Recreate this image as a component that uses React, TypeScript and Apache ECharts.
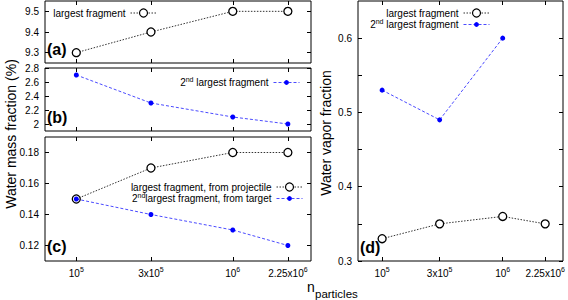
import React, { useEffect, useRef } from "react";
import * as echarts from "echarts";

// ---------- data ----------
const nParticles = [1e5, 3e5, 1e6, 2.25e6];
const xTickLabels = ["10^5", "3x10^5", "10^6", "2.25x10^6"];

const largestA = [9.3, 9.4, 9.5, 9.5];
const secondB = [2.7, 2.3, 2.1, 2.0];
const largestProjectileC = [0.15, 0.17, 0.18, 0.18];
const secondTargetC = [0.15, 0.14, 0.13, 0.12];
const vaporLargestD = [0.33, 0.35, 0.36, 0.35];
const vaporSecondD = [0.53, 0.49, 0.6];

const yTicksA = [9.3, 9.4, 9.5];
const yTicksB = [2, 2.2, 2.4, 2.6, 2.8];
const yTicksC = [0.12, 0.14, 0.16, 0.18];
const yTicksD = [0.3, 0.4, 0.5, 0.6];
const yMinorTicksD = [0.35, 0.45, 0.55];

const FONT = "'Liberation Sans', Arial, Helvetica, sans-serif";
const X_MIN = 4.8;
const X_MAX = 6.5;
const xTickPos = nParticles.map((n) => Math.log10(n));

const pairs = (vals: number[]) => vals.map((v, i) => [Math.log10(nParticles[i]), v]);

const xLabelFormatter = (value: number) => {
  const idx = xTickPos.findIndex((p) => Math.abs(p - value) < 1e-6);
  if (idx < 0) return "";
  const [base, exp] = xTickLabels[idx].split("^");
  return `{b|${base}}{s|${exp}}`;
};

const blackLine = { color: "#333", width: 1, type: [1.5, 1.5] as any };
const blueLine = { color: "#4b4bff", width: 1, type: [3, 2] as any };
const openCircle = { color: "#fff", borderColor: "#000", borderWidth: 1.3 };
const blueDot = { color: "#0000ff", borderWidth: 0 };

const grids = [
  { left: 45, top: 1, width: 266, height: 62 },
  { left: 45, top: 68, width: 266, height: 63 },
  { left: 45, top: 137, width: 266, height: 124 },
  { left: 358, top: 1, width: 205, height: 260 },
];

const yRanges = [
  { min: 9.25, max: 9.55, ticks: yTicksA, minor: [] as number[] },
  { min: 1.9, max: 2.8, ticks: yTicksB, minor: [] as number[] },
  { min: 0.11, max: 0.19, ticks: yTicksC, minor: [] as number[] },
  { min: 0.3, max: 0.65, ticks: yTicksD, minor: yMinorTicksD },
];

const tickStyle = { inside: true, length: 4, lineStyle: { color: "#000", width: 1 } };

export default function App() {
  const ref = useRef<HTMLDivElement>(null);
  useEffect(() => {
    if (!ref.current) return;
    const chart = echarts.init(ref.current, null, { renderer: "svg" });

    const xAxis: any[] = [];
    const yAxis: any[] = [];
    grids.forEach((_, g) => {
      const showX = g === 2 || g === 3;
      xAxis.push({
        type: "value",
        gridIndex: g,
        position: "bottom",
        min: X_MIN,
        max: X_MAX,
        axisLine: { show: false },
        splitLine: { show: false },
        axisTick: { ...tickStyle, customValues: xTickPos },
        axisLabel: {
          show: showX,
          customValues: xTickPos,
          margin: 5,
          formatter: xLabelFormatter,
          rich: {
            b: { fontSize: 10, fontFamily: FONT, color: "#000", lineHeight: 14 },
            s: { fontSize: 7, fontFamily: FONT, color: "#000", lineHeight: 8, verticalAlign: "top" },
          },
        },
      });
      xAxis.push({
        type: "value",
        gridIndex: g,
        position: "top",
        min: X_MIN,
        max: X_MAX,
        axisLine: { show: false },
        splitLine: { show: false },
        axisTick: { ...tickStyle, customValues: xTickPos },
        axisLabel: { show: false },
      });
      const yr = yRanges[g];
      const tickVals = [...yr.ticks, ...yr.minor].sort((a, b) => a - b);
      yAxis.push({
        type: "value",
        gridIndex: g,
        position: "left",
        min: yr.min,
        max: yr.max,
        axisLine: { show: false },
        splitLine: { show: false },
        axisTick: { ...tickStyle, customValues: tickVals },
        axisLabel: {
          customValues: yr.ticks,
          margin: 6,
          fontSize: 10,
          fontFamily: FONT,
          color: "#000",
        },
      });
      yAxis.push({
        type: "value",
        gridIndex: g,
        position: "right",
        min: yr.min,
        max: yr.max,
        axisLine: { show: false },
        splitLine: { show: false },
        axisTick: { ...tickStyle, customValues: tickVals },
        axisLabel: { show: false },
      });
    });

    const mkBlack = (name: string, g: number, vals: number[]) => ({
      name,
      type: "line",
      xAxisIndex: 2 * g,
      yAxisIndex: 2 * g,
      data: pairs(vals),
      symbol: "circle",
      symbolSize: 8,
      lineStyle: blackLine,
      itemStyle: openCircle,
      z: 2,
    });
    const mkBlue = (name: string, g: number, vals: number[]) => ({
      name,
      type: "line",
      xAxisIndex: 2 * g,
      yAxisIndex: 2 * g,
      data: pairs(vals),
      symbol: "circle",
      symbolSize: 5,
      lineStyle: blueLine,
      itemStyle: blueDot,
      z: 3,
    });

    const legendText: Record<string, string> = {
      aLargest: "{t|largest fragment}",
      bSecond: "{t|2}{s|nd}{t| largest fragment}",
      cLargest: "{t|largest fragment, from projectile}",
      cSecond: "{t|2}{s|nd}{t|largest fragment, from target}",
      dLargest: "{t|largest fragment}",
      dSecond: "{t|2}{s|nd}{t| largest fragment}",
    };

    const mkLegend = (name: string, right: number, top: number, itemHeight: number, black: boolean) => ({
      data: [name],
      right,
      top,
      padding: 0,
      align: "right",
      itemWidth: 26,
      itemHeight,
      selectedMode: false,
      itemStyle: black ? { borderWidth: 1.2, borderColor: "#000", color: "#fff" } : { borderWidth: 0, color: "#0000ff" },
      lineStyle: black ? { ...blackLine } : { ...blueLine },
      formatter: (n: string) => legendText[n],
      textStyle: {
        rich: {
          t: { fontSize: 10, fontFamily: FONT, color: "#000", lineHeight: 13 },
          s: { fontSize: 7, fontFamily: FONT, color: "#000", lineHeight: 8, verticalAlign: "top" },
        },
      },
    });

    const option: any = {
      animation: false,
      backgroundColor: "#fff",
      grid: grids.map((gr) => ({
        ...gr,
        show: true,
        borderColor: "#000",
        borderWidth: 1,
        backgroundColor: "transparent",
      })),
      xAxis,
      yAxis,
      legend: [
        mkLegend("aLargest", 411, 8, 10, true),
        mkLegend("bSecond", 268, 76, 6, false),
        mkLegend("cLargest", 265, 182, 10, true),
        mkLegend("cSecond", 265, 192, 6, false),
        mkLegend("dLargest", 78, 8, 10, true),
        mkLegend("dSecond", 78, 18, 6, false),
      ],
      series: [
        mkBlack("aLargest", 0, largestA),
        mkBlue("bSecond", 1, secondB),
        mkBlack("cLargest", 2, largestProjectileC),
        mkBlue("cSecond", 2, secondTargetC),
        mkBlack("dLargest", 3, vaporLargestD),
        mkBlue("dSecond", 3, vaporSecondD),
      ],
      graphic: [
        { type: "text", left: 47, top: 41, style: { text: "(a)", font: `bold 16px ${FONT}`, fill: "#000" } },
        { type: "text", left: 47, top: 109, style: { text: "(b)", font: `bold 16px ${FONT}`, fill: "#000" } },
        { type: "text", left: 47, top: 238, style: { text: "(c)", font: `bold 16px ${FONT}`, fill: "#000" } },
        { type: "text", left: 360, top: 239, style: { text: "(d)", font: `bold 16px ${FONT}`, fill: "#000" } },
        {
          type: "text",
          x: 11,
          y: 134,
          rotation: Math.PI / 2,
          style: {
            text: "Water mass fraction (%)",
            font: `14px ${FONT}`,
            fill: "#000",
            align: "center",
            verticalAlign: "middle",
          },
        },
        {
          type: "text",
          x: 326,
          y: 133,
          rotation: Math.PI / 2,
          style: {
            text: "Water vapor fraction",
            font: `14px ${FONT}`,
            fill: "#000",
            align: "center",
            verticalAlign: "middle",
          },
        },
        {
          type: "text",
          x: 307,
          y: 287,
          style: { text: "n", font: `14px ${FONT}`, fill: "#000", align: "left", verticalAlign: "middle" },
        },
        {
          type: "text",
          x: 315,
          y: 294,
          style: { text: "particles", font: `11.5px ${FONT}`, fill: "#000", align: "left", verticalAlign: "middle" },
        },
      ],
    };

    chart.setOption(option);
    return () => chart.dispose();
  }, []);

  return (
    <div
      ref={ref}
      style={{ position: "fixed", left: 0, top: 0, width: 568, height: 300, background: "#fff" }}
    />
  );
}
